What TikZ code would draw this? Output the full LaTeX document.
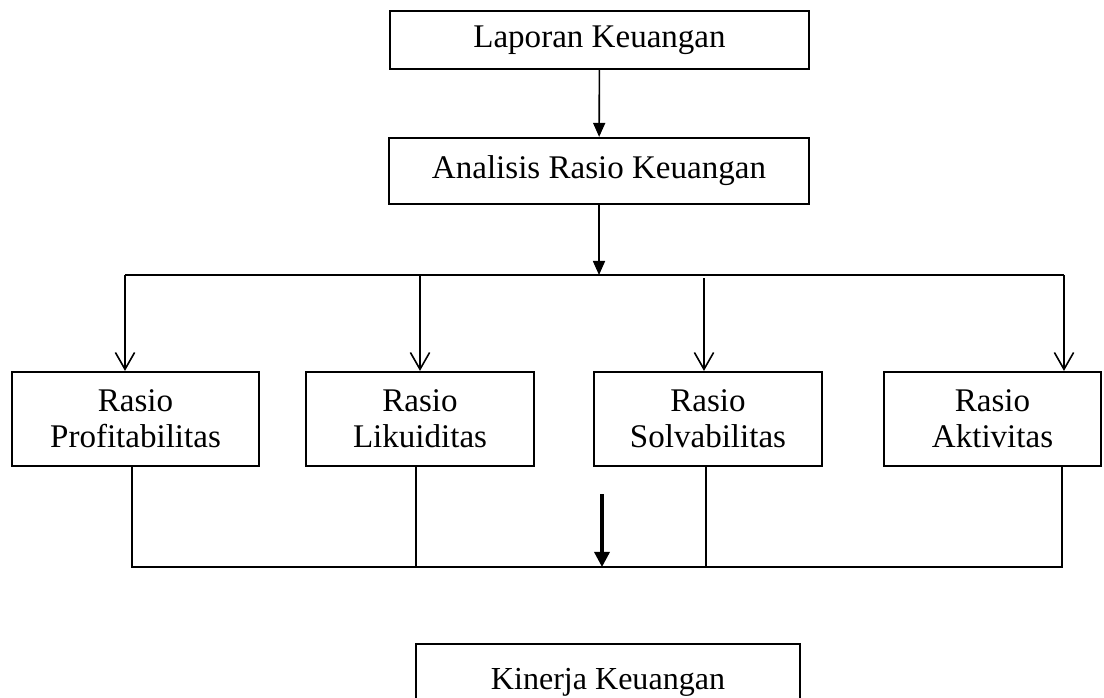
\documentclass[tikz,border=0pt]{standalone}
\usepackage{fontspec}
\setmainfont{Liberation Serif}
\usepackage{tikz}
\usetikzlibrary{arrows.meta,calc}

\begin{document}
\begin{tikzpicture}[x=0.025cm,y=-0.025cm,
	element/.style={draw,line width=0.055cm,inner sep=0pt,align=center,
		font=\fontsize{23.5pt}{25.6pt}\selectfont},
	size/.style n args={2}{minimum width=#1*0.025cm,minimum height=#2*0.025cm},
	bar/.style={line width=0.045cm},
	fill arrow/.style={line width=0.04cm,-{Triangle[length=0.35cm,width=0.3cm]}},
	open arrow/.style={line width=0.04cm,-{Straight Barb[length=0.42cm,width=0.48cm]}},
	thick arrow/.style={line width=0.08cm,-{Triangle[length=0.38cm,width=0.38cm]}}]
	\useasboundingbox (0,0) rectangle (1104,697);
	\clip (0,0) rectangle (1104,697);
	
	\node[element,size={419}{58}] (lap) at (599.5,40) {Laporan Keuangan};
	\node[element,size={420}{66}] (ana) at (599,171) {Analisis Rasio Keuangan};
	
	\node[element,size={247}{94}] (prof) at (135.5,419) {Rasio\\Profitabilitas};
	\node[element,size={228}{94}] (lik) at (420,419) {Rasio\\Likuiditas};
	\node[element,size={228}{94}] (sol) at (708,419) {Rasio\\Solvabilitas};
	\node[element,size={217}{94}] (akt) at (992.5,419) {Rasio\\Aktivitas};
	
	\node[element,size={384}{76},
		font=\fontsize{22.8pt}{25pt}\selectfont] (kin) at (608,682) {Kinerja Keuangan};
	
	\coordinate (bl) at (125,275);
	\coordinate (br) at (1064,275);
	\coordinate (jt) at (602,494);
	\coordinate (jn) at (602,567);
	
	\draw[fill arrow] (lap) -- (ana);
	\draw[fill arrow] (ana.south) -- (ana.south |- bl);
	\draw[bar] (bl) -- (br);
	\draw[open arrow] (bl) -- (bl |- prof.north);
	\draw[open arrow] (lik.north |- bl) -- (lik.north);
	\draw[open arrow] ($(sol.north |- bl)+(-4,3)$) -- ($(sol.north)+(-4,0)$);
	\draw[open arrow] (br) -- (br |- akt.north);
	
	\draw[bar] ($(prof.south)+(-3.5,0)$) |- (jn) -| ($(akt.south -| br)+(-2,0)$);
	\draw[bar] ($(lik.south)+(-4,0)$) -- ($(lik.south |- jn)+(-4,0)$);
	\draw[bar] ($(sol.south)+(-2,0)$) -- ($(sol.south |- jn)+(-2,0)$);
	\draw[thick arrow] (jt) -- (jn);
\end{tikzpicture}
\end{document}
